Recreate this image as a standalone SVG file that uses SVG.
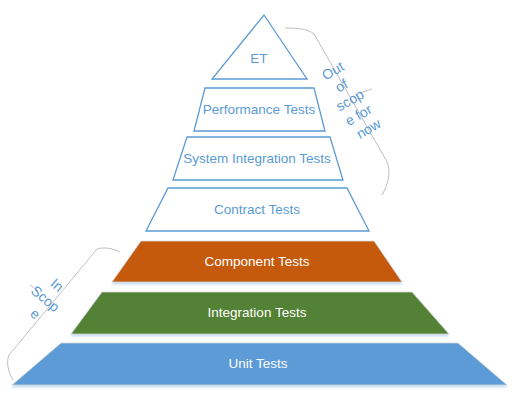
<svg xmlns="http://www.w3.org/2000/svg" width="515" height="417" viewBox="0 0 515 417">
  <defs>
    <filter id="sh" x="-10%" y="-20%" width="120%" height="150%">
      <feDropShadow dx="0" dy="2" stdDeviation="1.2" flood-color="#9DC3E6" flood-opacity="0.6"/>
    </filter>
  </defs>
  <style>
    .outline { fill: #FFFFFF; stroke: #5B9BD5; stroke-width: 1.3; }
    .filled { stroke: #D9D9D9; stroke-width: 0.75; filter: url(#sh); }
    .lbl { font-family: "Liberation Sans", Arial, sans-serif; font-size: 13.5px; text-anchor: middle; }
    .blue { fill: #5B9BD5; }
    .white { fill: #FFFFFF; }
    .brace { fill: none; stroke: #BFBFBF; stroke-width: 1; }
    .note { font-family: "Liberation Sans", Arial, sans-serif; font-size: 14px; fill: #5B9BD5; text-anchor: middle; }
  </style>

  <rect width="515" height="417" fill="#FFFFFF"/>

  <g id="connectors">
    <path class="brace" d="M285,28 C298,28 308,29 314,34 L386,160 C392,170 388,185 382,195"/>
    <path class="brace" d="M360,93 L372,89"/>
    <path class="brace" d="M120,252 C112,248 104,247 97,249 L9,355 C6,362 8,372 13,380"/>
    <path class="brace" d="M30,285 L38,291"/>
  </g>

  <g id="et">
    <polygon class="outline" points="264,15 307,79 212,79"/>
    <text class="lbl blue" x="259" y="63">ET</text>
  </g>

  <g id="performance">
    <polygon class="outline" points="205,88 314,88 325,131 194,131"/>
    <text class="lbl blue" x="259" y="114">Performance Tests</text>
  </g>

  <g id="system-integration">
    <polygon class="outline" points="187,137 330,137 343,180 173,180"/>
    <text class="lbl blue" x="257" y="163">System Integration Tests</text>
  </g>

  <g id="contract">
    <polygon class="outline" points="168,188 347,188 369,231 146,231"/>
    <text class="lbl blue" x="257" y="214">Contract Tests</text>
  </g>

  <g id="component">
    <polygon class="filled" fill="#C55A11" points="141,241 374,241 402,282 112,282"/>
    <text class="lbl white" x="257" y="266">Component Tests</text>
  </g>

  <g id="integration">
    <polygon class="filled" fill="#538135" points="102,292 412,292 449,334 71,334"/>
    <text class="lbl white" x="257" y="317">Integration Tests</text>
  </g>

  <g id="unit">
    <polygon class="filled" fill="#5B9BD5" points="61,343 458,343 507,385 12,385"/>
    <text class="lbl white" x="258" y="368">Unit Tests</text>
  </g>

  <g id="out-of-scope">
    <text class="note" transform="translate(352,100) rotate(-30)">
      <tspan x="0" y="-30">Out</tspan>
      <tspan x="0" y="-13">of</tspan>
      <tspan x="0" y="4">scop</tspan>
      <tspan x="0" y="21">e for</tspan>
      <tspan x="0" y="38">now</tspan>
    </text>
  </g>

  <g id="in-scope">
    <text class="note" transform="translate(47,300) rotate(40)">
      <tspan x="0" y="-13">In</tspan>
      <tspan x="0" y="5">Scop</tspan>
      <tspan x="0" y="23">e</tspan>
    </text>
  </g>
</svg>
